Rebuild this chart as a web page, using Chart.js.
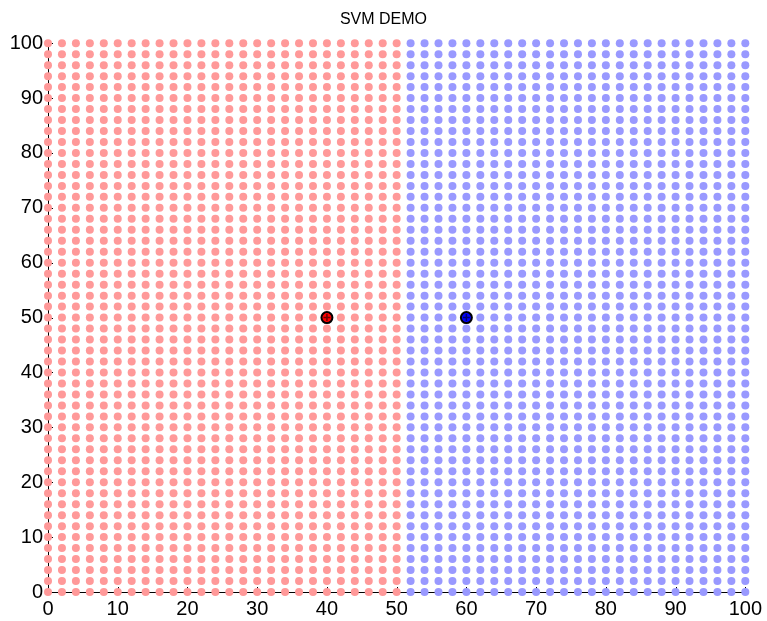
<!DOCTYPE html>
<html>
<head>
<meta charset="utf-8">
<script src="https://cdn.jsdelivr.net/npm/chart.js@4.4.1/dist/chart.umd.min.js"></script>
<style>
  html, body { margin: 0; padding: 0; background: #fff; }
  #wrap { width: 767px; height: 621px; }
</style>
</head>
<body>
<div id="wrap"><canvas id="myChart" width="767" height="621"></canvas></div>
<script>
// grid of sample points (step 2 on both axes)
var gridX = [0, 2, 4, 6, 8, 10, 12, 14, 16, 18, 20, 22, 24, 26, 28, 30, 32, 34, 36, 38, 40,
             42, 44, 46, 48, 50, 52, 54, 56, 58, 60, 62, 64, 66, 68, 70, 72, 74, 76, 78, 80,
             82, 84, 86, 88, 90, 92, 94, 96, 98, 100];
var gridY = [0, 2, 4, 6, 8, 10, 12, 14, 16, 18, 20, 22, 24, 26, 28, 30, 32, 34, 36, 38, 40,
             42, 44, 46, 48, 50, 52, 54, 56, 58, 60, 62, 64, 66, 68, 70, 72, 74, 76, 78, 80,
             82, 84, 86, 88, 90, 92, 94, 96, 98, 100];
// decision boundary: x <= boundary is class red
var boundary = 50;
// the two training points
var redPoint = [{x: 40, y: 50}];
var bluePoint = [{x: 60, y: 50}];
var axisTicks = [0, 10, 20, 30, 40, 50, 60, 70, 80, 90, 100];

var redGrid = [], blueGrid = [];
gridX.forEach(function(x){
  gridY.forEach(function(y){
    if (x <= boundary) redGrid.push({x: x, y: y});
    else blueGrid.push({x: x, y: y});
  });
});

// inward tick marks like matlab
var innerTicks = {
  id: 'innerTicks',
  beforeDatasetsDraw: function(chart){
    var ctx = chart.ctx, xs = chart.scales.x, ys = chart.scales.y, a = chart.chartArea;
    ctx.save();
    ctx.strokeStyle = '#000';
    ctx.lineWidth = 1;
    ctx.beginPath();
    axisTicks.forEach(function(v){
      var px = Math.round(xs.getPixelForValue(v)) + 0.5;
      ctx.moveTo(px, a.bottom);
      ctx.lineTo(px, a.bottom - 5);
      var py = Math.round(ys.getPixelForValue(v)) + 0.5;
      ctx.moveTo(a.left, py);
      ctx.lineTo(a.left + 5, py);
    });
    ctx.stroke();
    ctx.restore();
  }
};

var tickFont = { family: 'Liberation Sans', size: 20 };

var ctx = document.getElementById('myChart').getContext('2d');
var chart = new Chart(ctx, {
  type: 'scatter',
  data: {
    datasets: [{
      data: redPoint.concat(bluePoint),
      pointStyle: 'cross',
      borderColor: ['#700000', '#000070'],
      borderWidth: 1.5,
      pointRadius: 3.5,
      clip: false
    }, {
      data: redPoint,
      backgroundColor: '#ff0000',
      borderColor: '#000',
      borderWidth: 2,
      pointRadius: 5.5,
      clip: false
    }, {
      data: bluePoint,
      backgroundColor: '#0000ff',
      borderColor: '#000',
      borderWidth: 2,
      pointRadius: 5.5,
      clip: false
    }, {
      data: redGrid,
      backgroundColor: '#ff9999',
      borderWidth: 0,
      pointRadius: 4,
      clip: false
    }, {
      data: blueGrid,
      backgroundColor: '#9999ff',
      borderWidth: 0,
      pointRadius: 4,
      clip: false
    }]
  },
  plugins: [innerTicks],
  options: {
    responsive: false,
    animation: false,
    layout: { padding: { left: 11, right: 11, top: 0, bottom: 0 } },
    plugins: {
      legend: { display: false },
      tooltip: { enabled: false },
      title: {
        display: true,
        text: 'SVM DEMO',
        color: '#000',
        font: { family: 'Liberation Sans', size: 16, weight: 'normal' },
        padding: { top: 10, bottom: 14 }
      }
    },
    scales: {
      x: {
        type: 'linear', min: 0, max: 100,
        afterFit: function(s){ s.height = 29; },
        border: { display: true, color: '#000', width: 1 },
        grid: { display: true, drawOnChartArea: false, drawTicks: false },
        ticks: { stepSize: 10, color: '#000', padding: 5, maxRotation: 0, font: tickFont }
      },
      y: {
        type: 'linear', min: 0, max: 100,
        afterFit: function(s){ s.width = 37; },
        border: { display: true, color: '#000', width: 1 },
        grid: { display: true, drawOnChartArea: false, drawTicks: false },
        ticks: { stepSize: 10, color: '#000', padding: 5, font: tickFont }
      }
    }
  }
});
</script>
</body>
</html>
